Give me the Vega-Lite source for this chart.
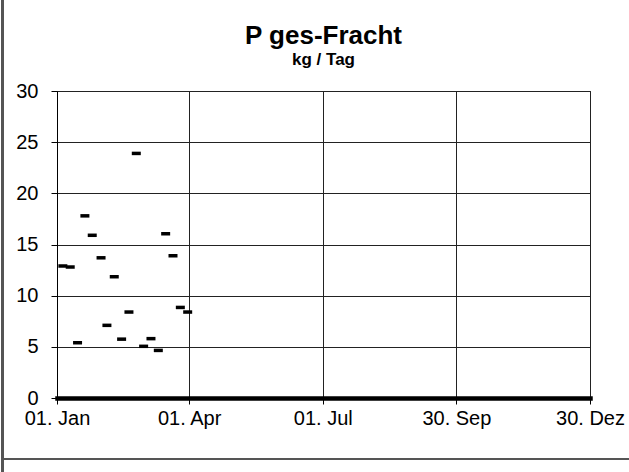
{
  "$schema": "https://vega.github.io/schema/vega-lite/v6.json",
  "width": 533,
  "height": 307,
  "autosize": {"type": "none"},
  "padding": {"left": 57, "top": 91, "right": 39, "bottom": 74},
  "background": "white",
  "title": {
    "text": "P ges-Fracht",
    "subtitle": "kg / Tag",
    "anchor": "middle",
    "font": "Liberation Sans",
    "fontSize": 26,
    "fontWeight": "bold",
    "color": "black",
    "subtitleFont": "Liberation Sans",
    "subtitleFontSize": 17,
    "subtitleFontWeight": "bold",
    "subtitleColor": "black",
    "subtitlePadding": 3,
    "offset": 0,
    "dy": 80
  },
  "data": {
    "values": [
      {"date": "2023-01-05", "value": 12.9},
      {"date": "2023-01-10", "value": 12.8},
      {"date": "2023-01-15", "value": 5.4},
      {"date": "2023-01-20", "value": 17.8},
      {"date": "2023-01-25", "value": 15.9},
      {"date": "2023-01-31", "value": 13.7},
      {"date": "2023-02-04", "value": 7.1},
      {"date": "2023-02-09", "value": 11.85},
      {"date": "2023-02-14", "value": 5.75},
      {"date": "2023-02-19", "value": 8.4},
      {"date": "2023-02-24", "value": 23.9},
      {"date": "2023-03-01", "value": 5.05},
      {"date": "2023-03-06", "value": 5.8},
      {"date": "2023-03-11", "value": 4.65},
      {"date": "2023-03-16", "value": 16.05},
      {"date": "2023-03-21", "value": 13.9},
      {"date": "2023-03-26", "value": 8.85},
      {"date": "2023-03-31", "value": 8.4}
    ]
  },
  "layer": [
    {
      "mark": {"type": "tick", "orient": "horizontal", "size": 9, "thickness": 3.5, "color": "black", "opacity": 1},
      "encoding": {
        "x": {
          "field": "date",
          "type": "temporal",
          "scale": {"type": "utc", "domain": [{"year": 2023, "month": 1, "date": 1, "utc": true}, {"year": 2023, "month": 12, "date": 30, "utc": true}]},
          "axis": {
            "title": null,
            "values": [
              {"year": 2023, "month": 1, "date": 1, "utc": true},
              {"year": 2023, "month": 4, "date": 1, "utc": true},
              {"year": 2023, "month": 7, "date": 1, "utc": true},
              {"year": 2023, "month": 9, "date": 30, "utc": true},
              {"year": 2023, "month": 12, "date": 30, "utc": true}
            ],
            "labelExpr": "replace(utcFormat(datum.value, '%d. %b'), 'Dec', 'Dez')",
            "labelFont": "Liberation Sans",
            "labelFontSize": 20,
            "labelColor": "black",
            "labelFlush": false,
            "labelOverlap": false,
            "labelPadding": 4,
            "tickColor": "black",
            "tickSize": 6,
            "tickWidth": 1,
            "domainColor": "black",
            "domainWidth": 4.5,
            "domainCap": "square",
            "grid": true,
            "gridColor": "#222",
            "gridWidth": 1
          }
        },
        "y": {
          "field": "value",
          "type": "quantitative",
          "scale": {"domain": [0, 30], "nice": false, "zero": true},
          "axis": {
            "title": null,
            "values": [0, 5, 10, 15, 20, 25, 30],
            "labelFont": "Liberation Sans",
            "labelFontSize": 20,
            "labelColor": "black",
            "labelPadding": 13,
            "tickColor": "black",
            "tickSize": 6,
            "tickWidth": 1,
            "domainColor": "black",
            "domainWidth": 1,
            "grid": true,
            "gridColor": "#222",
            "gridWidth": 1
          }
        }
      }
    },
    {
      "mark": {"type": "rule", "clip": false, "color": "#555", "strokeWidth": 2},
      "encoding": {
        "x": {"datum": {"year": 2022, "month": 11, "date": 25, "utc": true}, "type": "temporal", "scale": {"type": "utc", "domain": [{"year": 2023, "month": 1, "date": 1, "utc": true}, {"year": 2023, "month": 12, "date": 30, "utc": true}]}},
        "y": {"datum": 40, "type": "quantitative", "scale": {"domain": [0, 30], "nice": false, "zero": true}},
        "y2": {"datum": -8}
      }
    },
    {
      "mark": {"type": "rule", "clip": false, "color": "#555", "strokeWidth": 2},
      "encoding": {
        "x": {"datum": {"year": 2022, "month": 11, "date": 25, "utc": true}, "type": "temporal", "scale": {"type": "utc", "domain": [{"year": 2023, "month": 1, "date": 1, "utc": true}, {"year": 2023, "month": 12, "date": 30, "utc": true}]}},
        "x2": {"datum": {"year": 2024, "month": 3, "date": 1, "utc": true}},
        "y": {"datum": -5.95, "type": "quantitative", "scale": {"domain": [0, 30], "nice": false, "zero": true}}
      }
    }
  ],
  "config": {
    "view": {"stroke": "black", "strokeWidth": 1}
  }
}
